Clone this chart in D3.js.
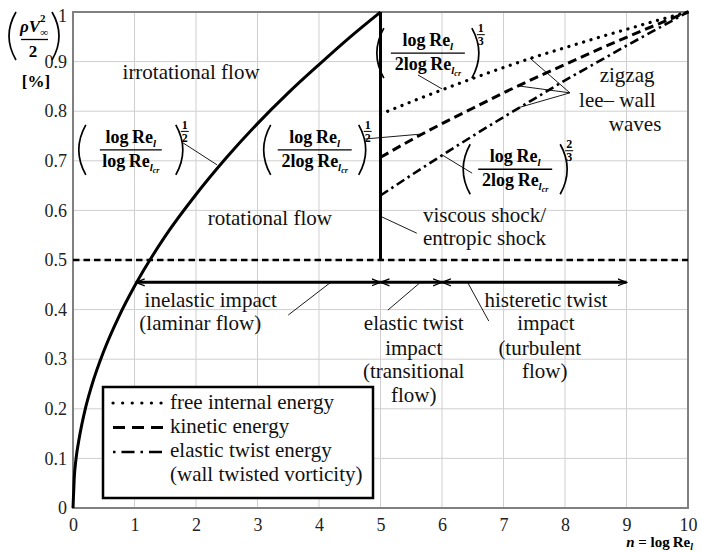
<!DOCTYPE html>
<html>
<head>
<meta charset="utf-8">
<script src="https://cdn.jsdelivr.net/npm/d3@7"></script>
<style>
  body { margin: 0; background: #fff; }
  svg text { font-family: "Liberation Serif", "Times New Roman", serif; }
</style>
</head>
<body>
<div id="chart"></div>
<script>
// values
var xTicks = [0, 1, 2, 3, 4, 5, 6, 7, 8, 9, 10];
var yTicks = [0, 0.1, 0.2, 0.3, 0.4, 0.5, 0.6, 0.7, 0.8, 0.9, 1];

// laminar branch, 0..5
var lamX = [0, 0.02, 0.05, 0.1, 0.2, 0.3, 0.5, 0.75, 1, 1.5, 2, 2.5, 3, 3.5, 4, 4.5, 5];
var lamY = [0, 0.06, 0.10, 0.14, 0.20, 0.245, 0.316, 0.387, 0.447, 0.548, 0.632, 0.707, 0.775, 0.837, 0.894, 0.949, 1];

// after the shock, 5..10
var postX = [5, 5.5, 6, 6.5, 7, 7.5, 8, 8.5, 9, 9.5, 10];
var freeY = [0.794, 0.819, 0.843, 0.866, 0.888, 0.909, 0.928, 0.947, 0.965, 0.983, 1];
var kinY = [0.707, 0.742, 0.775, 0.806, 0.837, 0.866, 0.894, 0.922, 0.949, 0.975, 1];
var twistY = [0.630, 0.671, 0.711, 0.750, 0.788, 0.825, 0.862, 0.897, 0.932, 0.966, 1];

var shockX = 5, shockTop = 1, shockBottom = 0.5;
var halfLevel = 0.5;
var arrowLevel = 0.455;
var arrowSegs = [[1.02, 5], [5, 6], [6, 9]];

var legendLabels = ["free internal energy", "kinetic energy", "elastic twist energy", "(wall twisted vorticity)"];

function main() {
    var W = 702, H = 552;
    var svg = d3.select("#chart").append("svg")
        .attr("width", W)
        .attr("height", H);

    var x = d3.scaleLinear().domain([0, 10]).range([73, 688]);
    var y = d3.scaleLinear().domain([0, 1]).range([508, 12]);

    var defs = svg.append("defs");
    defs.append("marker")
        .attr("id", "arr")
        .attr("viewBox", "0 -5 10 10")
        .attr("refX", 9).attr("refY", 0)
        .attr("markerWidth", 10).attr("markerHeight", 10)
        .attr("markerUnits", "userSpaceOnUse")
        .attr("orient", "auto-start-reverse")
        .append("path")
        .attr("d", "M0,-3.5L9,0L0,3.5")
        .attr("fill", "none")
        .attr("stroke", "#000")
        .attr("stroke-width", 1.2);

    // grid
    svg.append("g").selectAll("line")
        .data(xTicks.slice(1, -1))
        .join("line")
        .attr("x1", d => x(d)).attr("x2", d => x(d))
        .attr("y1", y(0)).attr("y2", y(1))
        .attr("stroke", "#cfcfcf");
    svg.append("g").selectAll("line")
        .data(yTicks.slice(1, -1))
        .join("line")
        .attr("x1", x(0)).attr("x2", x(10))
        .attr("y1", d => y(d)).attr("y2", d => y(d))
        .attr("stroke", "#cfcfcf");

    // frame
    svg.append("rect")
        .attr("x", x(0)).attr("y", y(1))
        .attr("width", x(10) - x(0)).attr("height", y(0) - y(1))
        .attr("fill", "none")
        .attr("stroke", "#808080")
        .attr("stroke-width", 2);

    // axes
    var fmt = d => d === 0 ? "0" : d === 1 ? "1" : d3.format(".1f")(d);
    var gx = svg.append("g")
        .attr("transform", "translate(0," + y(0) + ")")
        .call(d3.axisBottom(x).tickValues(xTicks).tickSize(0).tickPadding(10));
    var gy = svg.append("g")
        .attr("transform", "translate(" + x(0) + ",0)")
        .call(d3.axisLeft(y).tickValues(yTicks).tickFormat(fmt).tickSize(0).tickPadding(6));
    [gx, gy].forEach(g => {
        g.select(".domain").remove();
        g.selectAll("text")
            .attr("font-family", "Liberation Serif")
            .attr("font-size", 18)
            .attr("fill", "#222");
    });
    gy.selectAll(".tick").filter(d => d === 1).select("text").attr("dy", "0.55em");

    var line = d3.line().x(d => x(d[0])).y(d => y(d[1]));

    // horizontal dashed line at 0.5
    svg.append("path")
        .attr("d", line([[0, halfLevel], [10, halfLevel]]))
        .attr("fill", "none").attr("stroke", "#000")
        .attr("stroke-width", 2.6)
        .attr("stroke-dasharray", "6.5,4");

    var smooth = d3.line().x(d => x(d[0])).y(d => y(d[1])).curve(d3.curveMonotoneX);

    // laminar curve
    svg.append("path")
        .attr("d", smooth(d3.zip(lamX, lamY)))
        .attr("fill", "none").attr("stroke", "#000").attr("stroke-width", 3);

    // shock
    svg.append("path")
        .attr("d", line([[shockX, shockTop], [shockX, shockBottom]]))
        .attr("fill", "none").attr("stroke", "#000").attr("stroke-width", 3);

    var styles = [
        {vals: freeY, dash: "0.1,7.6", w: 3.2, cap: "round", legDash: "0.1,9.5"},
        {vals: kinY, dash: "9,5", w: 3, cap: "butt", legDash: "12,7"},
        {vals: twistY, dash: "9,4,2.5,4", w: 2.6, cap: "butt", legDash: "2.5,6,13,6"}
    ];
    styles.forEach(s => {
        svg.append("path")
            .attr("d", smooth(d3.zip(postX, s.vals)))
            .attr("fill", "none").attr("stroke", "#000")
            .attr("stroke-width", s.w)
            .attr("stroke-linecap", s.cap)
            .attr("stroke-dasharray", s.dash);
    });

    // arrows
    svg.append("g").selectAll("path")
        .data(arrowSegs)
        .join("path")
        .attr("d", d => line([[d[0], arrowLevel], [d[1], arrowLevel]]))
        .attr("stroke", "#000").attr("stroke-width", 3)
        .attr("marker-start", "url(#arr)")
        .attr("marker-end", "url(#arr)");

    // thin leader lines
    var leaders = [
        [[1.79, 0.736], [2.34, 0.692]],
        [[4.75, 0.744], [5.67, 0.754]],
        [[5.61, 0.873], [6.0, 0.845]],
        [[6.0, 0.712], [6.49, 0.675]],
        [[5.02, 0.587], [5.59, 0.554]],
        [[8.08, 0.837], [7.43, 0.907]],
        [[8.08, 0.837], [7.24, 0.851]],
        [[8.08, 0.837], [7.27, 0.808]],
        [[4.18, 0.454], [3.5, 0.389]],
        [[5.64, 0.454], [5.12, 0.399]],
        [[6.42, 0.454], [6.76, 0.377]]
    ];
    svg.append("g").selectAll("path")
        .data(leaders)
        .join("path")
        .attr("d", d => line(d))
        .attr("stroke", "#000").attr("stroke-width", 0.9);

    // plain labels
    var labels = [
        ["irrotational flow", 1.92, 0.879, "middle"],
        ["rotational flow", 3.2, 0.585, "middle"],
        ["viscous shock/", 5.69, 0.591, "start"],
        ["entropic shock", 5.69, 0.544, "start"],
        ["zigzag", 9.01, 0.873, "middle"],
        ["lee\u2013 wall", 8.85, 0.823, "middle"],
        ["waves", 9.14, 0.774, "middle"],
        ["inelastic impact", 2.24, 0.419, "middle"],
        ["(laminar flow)", 2.07, 0.373, "middle"],
        ["elastic twist", 5.54, 0.373, "middle"],
        ["impact", 5.54, 0.323, "middle"],
        ["(transitional", 5.54, 0.276, "middle"],
        ["flow)", 5.54, 0.228, "middle"],
        ["histeretic twist", 7.69, 0.419, "middle"],
        ["impact", 7.69, 0.373, "middle"],
        ["(turbulent", 7.59, 0.323, "middle"],
        ["flow)", 7.67, 0.276, "middle"]
    ];
    svg.append("g").selectAll("text")
        .data(labels)
        .join("text")
        .attr("x", d => x(d[1])).attr("y", d => y(d[2]))
        .attr("dy", "0.32em")
        .attr("text-anchor", d => d[3])
        .attr("font-size", 21)
        .attr("fill", "#111")
        .text(d => d[0]);

    // power fractions
    function paren(g, px, h, dir) {
        g.append("path")
            .attr("d", "M" + px + "," + (-h) + "Q" + (px - dir * 14) + ",0 " + px + "," + h)
            .attr("fill", "none").attr("stroke", "#000").attr("stroke-width", 1.7);
    }
    function powerFrac(cx, cy, lead, e1, e2, half, pw) {
        var g = svg.append("g")
            .attr("transform", "translate(" + x(cx) + "," + y(cy) + ")")
            .attr("font-weight", "bold");
        var num = g.append("text").attr("x", 0).attr("y", -7)
            .attr("text-anchor", "middle").attr("font-size", 18);
        num.append("tspan").text("log\u2009Re");
        num.append("tspan").attr("font-size", 11).attr("font-style", "italic").attr("dy", 4).text("l");
        g.append("line").attr("x1", -half).attr("x2", half)
            .attr("stroke", "#000").attr("stroke-width", 1.3);
        var den = g.append("text").attr("x", 0).attr("y", 17)
            .attr("text-anchor", "middle").attr("font-size", 18);
        den.append("tspan").text(lead + "log\u2009Re");
        den.append("tspan").attr("font-size", 11).attr("font-style", "italic").attr("dy", 4).text("l");
        den.append("tspan").attr("font-size", 8).attr("font-style", "italic").attr("dy", 2).text("cr");
        paren(g, -pw, 25, 1);
        paren(g, pw, 25, -1);
        var ex = pw + 9;
        g.append("text").attr("x", ex).attr("y", -21).attr("text-anchor", "middle")
            .attr("font-size", 12).text(e1);
        g.append("line").attr("x1", ex - 4).attr("x2", ex + 4).attr("y1", -18.5).attr("y2", -18.5)
            .attr("stroke", "#000").attr("stroke-width", 1);
        g.append("text").attr("x", ex).attr("y", -8).attr("text-anchor", "middle")
            .attr("font-size", 12).text(e2);
    }
    powerFrac(0.94, 0.722, "", "1", "2", 31, 45);
    powerFrac(3.93, 0.722, "2", "1", "2", 37, 44);
    powerFrac(5.77, 0.917, "2", "1", "3", 37, 44);
    powerFrac(7.19, 0.683, "2", "2", "3", 37, 45);

    // y label
    var yl = svg.append("g").attr("font-weight", "bold");
    paren(yl, 16, 24, 1);
    paren(yl, 52, 24, -1);
    yl.selectAll("path").attr("transform", "translate(0,36)");
    var yn = yl.append("text").attr("x", 34).attr("y", 32).attr("text-anchor", "middle").attr("font-size", 17);
    yn.append("tspan").attr("font-style", "italic").text("\u03C1V");
    yn.append("tspan").attr("font-size", 11).attr("dy", 4).text("\u221E");
    yn.append("tspan").attr("font-size", 11).attr("dx", -8).attr("dy", -14).text("2");
    yl.append("line").attr("x1", 21).attr("x2", 48).attr("y1", 39.5).attr("y2", 39.5)
        .attr("stroke", "#000").attr("stroke-width", 1.3);
    yl.append("text").attr("x", 33).attr("y", 57).attr("text-anchor", "middle").attr("font-size", 17).text("2");
    yl.append("text").attr("x", 36).attr("y", 87).attr("text-anchor", "middle").attr("font-size", 17).text("[%]");

    // x label
    var xl = svg.append("text").attr("x", 693).attr("y", 547)
        .attr("text-anchor", "end").attr("font-weight", "bold").attr("font-size", 15);
    xl.append("tspan").attr("font-style", "italic").text("n");
    xl.append("tspan").text(" = log\u2009Re");
    xl.append("tspan").attr("font-size", 10).attr("font-style", "italic").attr("dy", 3).text("l");

    // legend
    var lg = svg.append("g");
    lg.append("rect")
        .attr("x", 103).attr("y", 387).attr("width", 270).attr("height", 111)
        .attr("fill", "#fff").attr("stroke", "#000").attr("stroke-width", 2.5);
    styles.forEach((s, i) => {
        lg.append("line")
            .attr("x1", 113).attr("x2", 164)
            .attr("y1", 403 + i * 24.5).attr("y2", 403 + i * 24.5)
            .attr("stroke", "#000").attr("stroke-width", s.w)
            .attr("stroke-linecap", s.cap)
            .attr("stroke-dasharray", s.legDash);
    });
    lg.selectAll("text")
        .data(legendLabels)
        .join("text")
        .attr("x", 170)
        .attr("y", (d, i) => 402 + i * 24.2)
        .attr("dy", "0.32em")
        .attr("font-size", 21)
        .attr("fill", "#111")
        .text(d => d);
}

main()
</script>
</body>
</html>
